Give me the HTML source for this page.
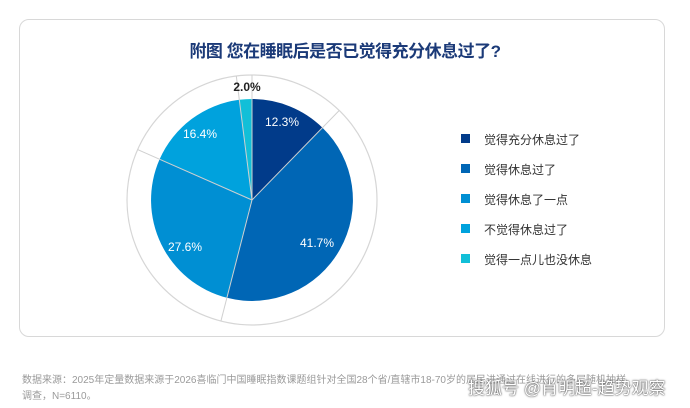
<!DOCTYPE html>
<html><head><meta charset="utf-8"><style>
body{margin:0;width:690px;height:408px;background:#fff;font-family:"Liberation Sans","Noto Sans CJK SC",sans-serif;overflow:hidden;position:relative}
.card{position:absolute;left:19px;top:19px;width:646px;height:318px;border:1px solid #d8d8d8;border-radius:10px;box-sizing:border-box}
.title{position:absolute;left:0;width:690px;top:37px;text-align:center;font-size:17px;font-weight:bold;color:#1b3a78;letter-spacing:-0.5px}
.lg{position:absolute;left:461px;font-size:12px;color:#333}
.lg i{position:absolute;left:0;top:3px;width:9px;height:9px}
.lg span{position:absolute;left:23px;top:0;white-space:nowrap}
.foot{position:absolute;left:22px;font-size:10px;color:#9a9a9a;white-space:nowrap}
.wm{position:absolute;left:468px;top:374px;font-size:17px;color:#fff;white-space:nowrap;text-shadow:0 0 2px #555,0 0 1px #333}
</style></head><body>
<div class="card"></div>
<div class="title">附图 您在睡眠后是否已觉得充分休息过了?</div>
<svg width="690" height="408" style="position:absolute;left:0;top:0">
<circle cx="252" cy="200" r="125" fill="#fff" stroke="#d6d6d6" stroke-width="1.2"/>
<path d="M252,200 L252,99 A101,101 0 0 1 322.5,127.7Z" fill="#013b8a"/>
<path d="M252,200 L322.5,127.7 A101,101 0 0 1 226.9,297.8Z" fill="#0066b5"/>
<path d="M252,200 L226.9,297.8 A101,101 0 0 1 159.6,159.3Z" fill="#008fd3"/>
<path d="M252,200 L159.6,159.3 A101,101 0 0 1 239.3,99.8Z" fill="#00a2dd"/>
<path d="M252,200 L239.3,99.8 A101,101 0 0 1 252,99Z" fill="#12bfd8"/>
<g stroke="#d0d0d0" stroke-width="1">
<line x1="252" y1="200" x2="252" y2="75"/>
<line x1="252" y1="200" x2="339.2" y2="110.5"/>
<line x1="252" y1="200" x2="220.9" y2="321.1"/>
<line x1="252" y1="200" x2="137.6" y2="149.6"/>
<line x1="252" y1="200" x2="236.3" y2="76"/>
</g>
<g font-size="12" fill="#fff" text-anchor="middle" font-family="Liberation Sans,sans-serif">
<text x="282" y="126">12.3%</text>
<text x="317" y="247">41.7%</text>
<text x="185" y="251">27.6%</text>
<text x="200" y="138">16.4%</text>
<text x="247" y="91" fill="#222" font-weight="bold">2.0%</text>
</g>
</svg>
<div class="lg" style="top:131px"><i style="background:#013b8a"></i><span>觉得充分休息过了</span></div>
<div class="lg" style="top:161px"><i style="background:#0066b5"></i><span>觉得休息过了</span></div>
<div class="lg" style="top:191px"><i style="background:#008fd3"></i><span>觉得休息了一点</span></div>
<div class="lg" style="top:221px"><i style="background:#00a2dd"></i><span>不觉得休息过了</span></div>
<div class="lg" style="top:251px"><i style="background:#12bfd8"></i><span>觉得一点儿也没休息</span></div>
<div class="foot" style="top:371px">数据来源：2025年定量数据来源于2026喜临门中国睡眠指数课题组针对全国28个省/直辖市18-70岁的居民进通过在线进行的多层随机抽样</div>
<div class="foot" style="top:387px">调查，N=6110。</div>
<div class="wm">搜狐号 @肖明超-趋势观察</div>
</body></html>
